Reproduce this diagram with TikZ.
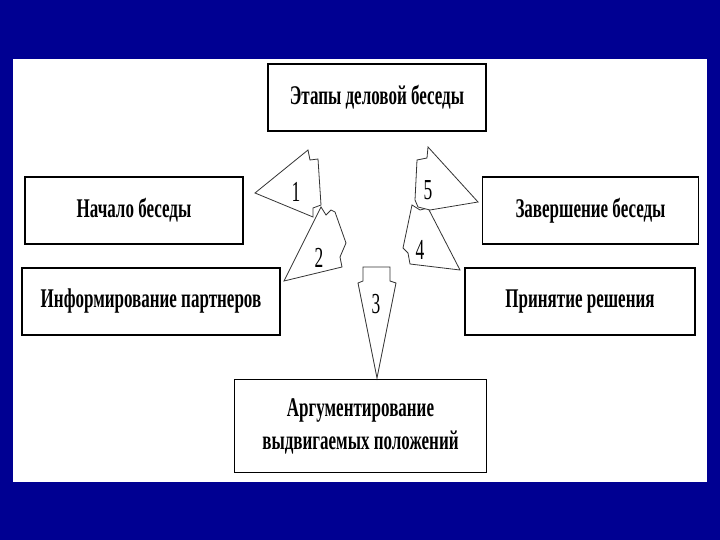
\documentclass[tikz,border=0pt]{standalone}
\usepackage{fontspec}
\newfontfamily\condfont{Liberation Serif}[FakeStretch=0.63]
\newfontfamily\numfont{Liberation Serif}[FakeStretch=0.6]
\definecolor{slideblue}{RGB}{0,0,146}
\tikzset{
  stagebox/.style={draw=black, line width=1.8pt, fill=white, inner sep=0pt,
    font=\condfont\bfseries\fontsize{27}{33}\selectfont, align=center},
  blockarrow/.style={draw=black!80, line width=0.8pt, fill=white, line join=miter},
  numlabel/.style={font=\numfont\fontsize{29}{29}\selectfont, inner sep=0pt}
}
\begin{document}
\begin{tikzpicture}[x=1pt, y=-1pt]
\useasboundingbox (0,0) rectangle (720,540);
\fill[slideblue] (0,0) rectangle (720,540);
\fill[white] (13,59) rectangle (707,482);

\node[stagebox, minimum width=218pt, minimum height=67pt] (top) at (377,97.5) {Этапы деловой беседы};
\node[stagebox, minimum width=218pt, minimum height=67pt] (nach) at (134,210.5) {Начало беседы};
\node[stagebox, minimum width=216pt, minimum height=67pt] (zav) at (590.5,210.5) {Завершение беседы};
\node[stagebox, minimum width=258pt, minimum height=67pt] (inf) at (151,301.5) {Информирование партнеров};
\node[stagebox, minimum width=230pt, minimum height=67pt] (prin) at (580,301.5) {Принятие решения};
\node[stagebox, minimum width=252pt, minimum height=93pt] (arg) at (360.5,426) {Аргументирование\\выдвигаемых положений};

% arrow 1
\draw[blockarrow] (255,193) -- (308,150) -- (310,160) -- (318,159) -- (321,205) -- (313,208) -- (313,217) -- cycle;
\node[numlabel] (n1) at (296,192) {1};
% arrow 2
\draw[blockarrow] (284,281) -- (321,207) -- (326,215) -- (331,210) -- (335,212) -- (346,243) -- (340,257) -- (342,267) -- cycle;
\node[numlabel] (n2) at (319,258) {2};
% arrow 3
\draw[blockarrow] (363,267) -- (390,267) -- (390,281) -- (396,283) -- (377,378) -- (358,283) -- (363,281) -- cycle;
\node[numlabel] (n3) at (376,304) {3};
% arrow 4
\draw[blockarrow] (412,205) -- (420,210) -- (428,208) -- (460,270) -- (410,264) -- (408,253) -- (403,248) -- cycle;
\node[numlabel] (n4) at (420,250) {4};
% arrow 5
\draw[blockarrow] (428,147) -- (478,202) -- (430,210) -- (418,207) -- (415,200) -- (417,160) -- (427,158) -- cycle;
\node[numlabel] (n5) at (428,190) {5};
\end{tikzpicture}
\end{document}
